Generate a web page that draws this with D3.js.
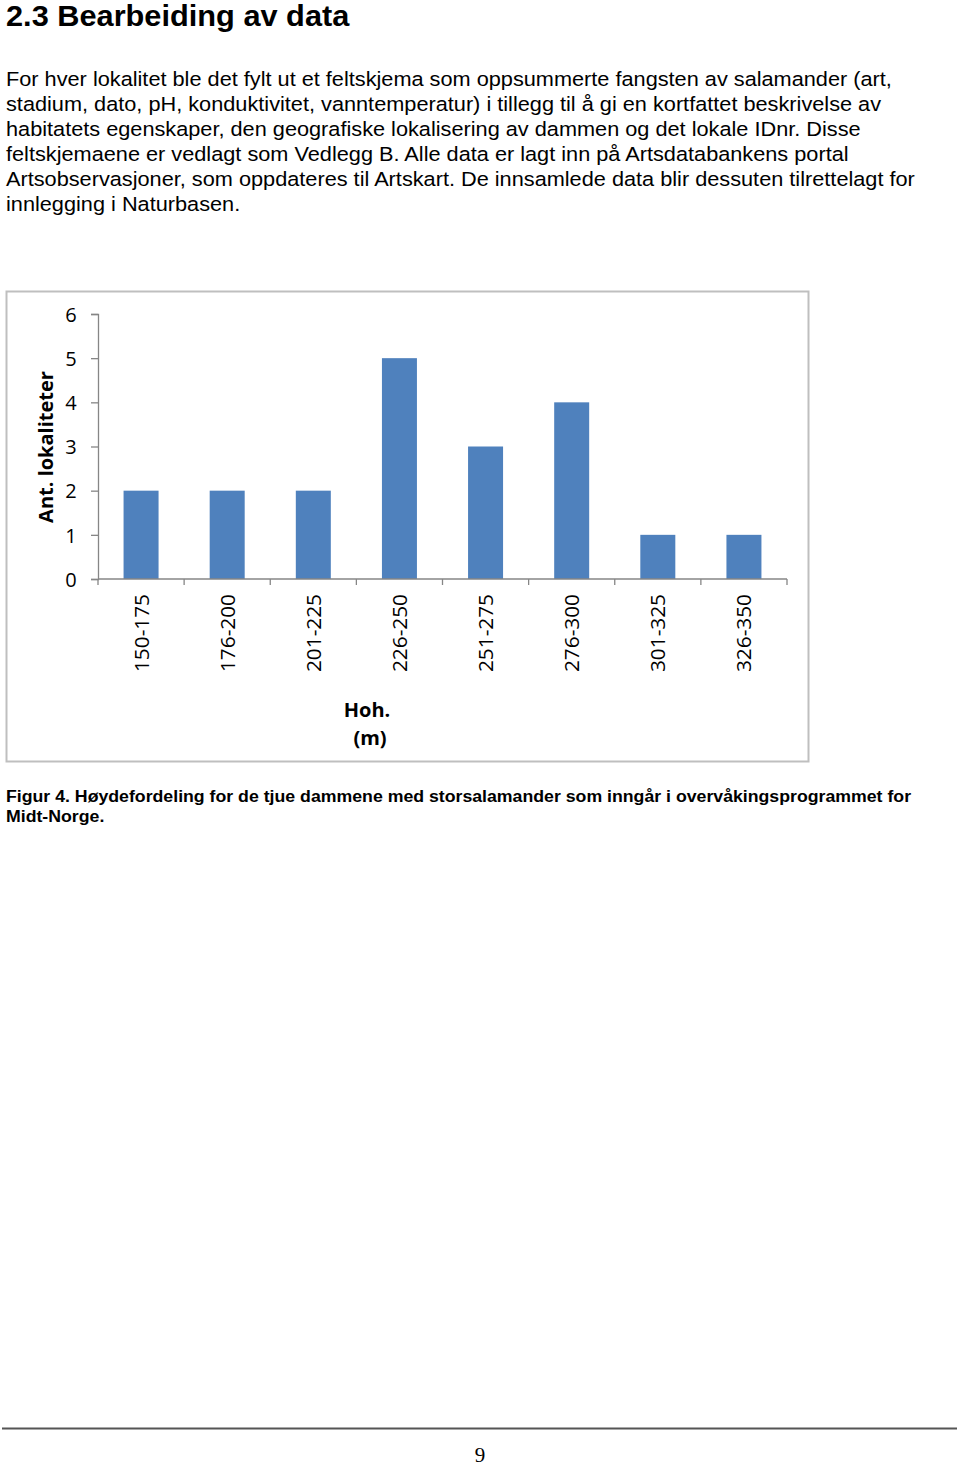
<!DOCTYPE html>
<html><head><meta charset="utf-8">
<script src="https://cdn.jsdelivr.net/npm/d3@7"></script>
<style>
html,body{margin:0;padding:0;background:#fff;}
svg{display:block;}
</style></head>
<body>
<svg id="page" width="960" height="1466"></svg>
<script>
const categories = ["150-175","176-200","201-225","226-250","251-275","276-300","301-325","326-350"];
const counts = [2,2,2,5,3,4,1,1];
const yTicks = [0,1,2,3,4,5,6];

const headingText = "2.3 Bearbeiding av data";
const paragraphLines = [
 "For hver lokalitet ble det fylt ut et feltskjema som oppsummerte fangsten av salamander (art,",
 "stadium, dato, pH, konduktivitet, vanntemperatur) i tillegg til å gi en kortfattet beskrivelse av",
 "habitatets egenskaper, den geografiske lokalisering av dammen og det lokale IDnr. Disse",
 "feltskjemaene er vedlagt som Vedlegg B. Alle data er lagt inn på Artsdatabankens portal",
 "Artsobservasjoner, som oppdateres til Artskart. De innsamlede data blir dessuten tilrettelagt for",
 "innlegging i Naturbasen."
];
const captionLines = [
 "Figur 4. Høydefordeling for de tjue dammene med storsalamander som inngår i overvåkingsprogrammet for",
 "Midt-Norge."
];
const yTitle = "Ant. lokaliteter";
const xTitleLines = ["Hoh.","(m)"];
const pageNumber = "9";

const svg = d3.select("#page");
const arial = "Liberation Sans, Arial, sans-serif";
const cal = "'Open Sans', sans-serif";
const SX = 1.06;

svg.append("g").attr("transform",`scale(${SX},1)`)
  .append("text").attr("x",6/SX).attr("y",26.5).attr("font-family",arial).attr("font-weight","bold")
  .attr("font-size",29).attr("fill","#000").text(headingText);

svg.append("g").attr("transform",`scale(${SX},1)`).selectAll("text").data(paragraphLines).join("text")
  .attr("x",6/SX).attr("y",(d,i)=>86+i*25).attr("font-family",arial).attr("font-size",20.5)
  .attr("fill","#000").text(d=>d);

// chart frame
svg.append("rect").attr("x",6.5).attr("y",291.5).attr("width",802).attr("height",470)
  .attr("fill","#fff").attr("stroke","#bfbfbf").attr("stroke-width",2);

const xb = d3.scaleBand().domain(categories).range([98,787]);
const y = d3.scaleLinear().domain([0,6]).range([579,314]);

const g = svg.append("g");
g.selectAll("rect.bar").data(categories).join("rect").attr("class","bar")
  .attr("x",d=>xb(d)+xb.bandwidth()/2-17.5).attr("width",35)
  .attr("y",(d,i)=>y(counts[i])).attr("height",(d,i)=>y(0)-y(counts[i]))
  .attr("fill","#4f81bd");

// y axis
const yAxis = g.append("g").attr("transform","translate(98,0)")
  .call(d3.axisLeft(y).tickValues(yTicks).tickSize(7).tickPadding(15).tickFormat(d3.format("d")));
yAxis.select(".domain").attr("stroke","#868686").attr("stroke-width",1.3);
yAxis.selectAll(".tick line").attr("stroke","#868686").attr("stroke-width",1.3);
yAxis.selectAll(".tick text").attr("font-family",cal).attr("font-size",20).attr("fill","#000")
  .attr("text-anchor","middle").attr("x",-27).attr("dy","0.36em");

// x axis
const xAxisG = g.append("g").attr("transform","translate(0,579)");
xAxisG.append("line").attr("x1",98).attr("x2",787).attr("stroke","#868686").attr("stroke-width",1.3);
const bounds = categories.map(c=>xb(c)).concat([787]);
xAxisG.selectAll("line.tk").data(bounds).join("line").attr("class","tk")
  .attr("x1",d=>d).attr("x2",d=>d).attr("y1",0).attr("y2",6)
  .attr("stroke","#868686").attr("stroke-width",1.3);
xAxisG.selectAll("text").data(categories).join("text")
  .attr("transform",d=>`translate(${xb(d)+xb.bandwidth()/2+7.5},15) rotate(-90)`)
  .attr("text-anchor","end").attr("font-family",cal).attr("font-size",20.8).attr("fill","#000")
  .text(d=>d);

// axis titles
svg.append("text").attr("transform","translate(53,447) rotate(-90)").attr("text-anchor","middle")
  .attr("font-family",cal).attr("font-weight","bold").attr("font-size",20).attr("fill","#000").text(yTitle);
svg.append("g").selectAll("text").data(xTitleLines).join("text")
  .attr("x",(d,i)=>i===0?367:370).attr("y",(d,i)=>717+i*28).attr("text-anchor","middle")
  .attr("font-family",cal).attr("font-weight","bold").attr("font-size",20).attr("fill","#000").text(d=>d);

// caption
svg.append("g").attr("transform",`scale(1.067,1)`).selectAll("text").data(captionLines).join("text")
  .attr("x",6/1.067).attr("y",(d,i)=>802+i*20).attr("font-family",arial).attr("font-weight","bold")
  .attr("font-size",16.6).attr("fill","#000").text(d=>d);

// footer
svg.append("line").attr("x1",2).attr("x2",957).attr("y1",1428.5).attr("y2",1428.5)
  .attr("stroke","#555").attr("stroke-width",2);
svg.append("text").attr("x",480).attr("y",1462).attr("text-anchor","middle")
  .attr("font-family","Liberation Serif, Times New Roman, serif").attr("font-size",21).attr("fill","#000").text(pageNumber);
</script>
</body></html>
